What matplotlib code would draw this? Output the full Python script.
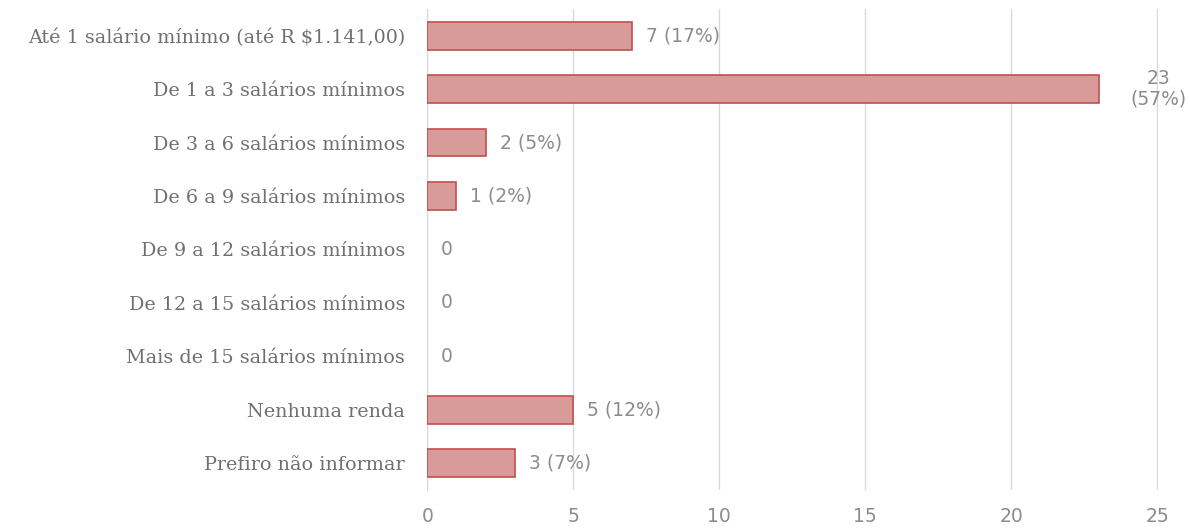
import matplotlib.pyplot as plt

# dados
categorias = ['Até 1 salário mínimo (até R $1.141,00)', 'De 1 a 3 salários mínimos',
              'De 3 a 6 salários mínimos', 'De 6 a 9 salários mínimos',
              'De 9 a 12 salários mínimos', 'De 12 a 15 salários mínimos',
              'Mais de 15 salários mínimos', 'Nenhuma renda', 'Prefiro não informar']
valores = [7, 23, 2, 1, 0, 0, 0, 5, 3]
rotulos = ['7 (17%)', '23\n(57%)', '2 (5%)', '1 (2%)', '0', '0', '0', '5 (12%)', '3 (7%)']
xticks = [0, 5, 10, 15, 20, 25]

plt.rcParams['font.family'] = ['DejaVu Serif']
sans = ['DejaVu Sans']

fig = plt.figure(figsize=(11.9, 5.28), dpi=100)
ax = fig.add_axes([0.359, 0.072, 0.6145, 0.911])

y = list(range(len(categorias)))
larg = [1.2 if v > 0 else 0 for v in valores]
ax.barh(y, valores, height=0.52, color='#d99a9a', edgecolor='#c0504d', linewidth=larg, zorder=3)

for i, (v, t) in enumerate(zip(valores, rotulos)):
    if '\n' in t:
        ax.text(v + 2.05, i, t, ha='center', va='center', fontsize=13.5, color='#8c8c8c',
                family=sans, linespacing=1.1)
    else:
        ax.text(v + 0.48, i, t, ha='left', va='center', fontsize=13.5, color='#8c8c8c',
                family=sans)

ax.set_yticks(y)
ax.set_yticklabels(categorias, fontsize=13.8, color='#707070')
ax.set_ylim(len(categorias) - 0.5, -0.5)
ax.set_xlim(0, 25.04)
ax.set_xticks(xticks)
ax.set_xticklabels([str(x) for x in xticks], fontsize=13.5, color='#8c8c8c', family=sans)
ax.tick_params(axis='both', length=0)
ax.tick_params(axis='x', pad=12)
ax.tick_params(axis='y', pad=16)

ax.grid(axis='x', color='#d9d9d9', linewidth=1, zorder=0)
ax.set_axisbelow(True)
for s in ['top', 'right', 'bottom']:
    ax.spines[s].set_visible(False)
ax.spines['left'].set_color('#d9d9d9')

fig.savefig('out.png', dpi=100)
